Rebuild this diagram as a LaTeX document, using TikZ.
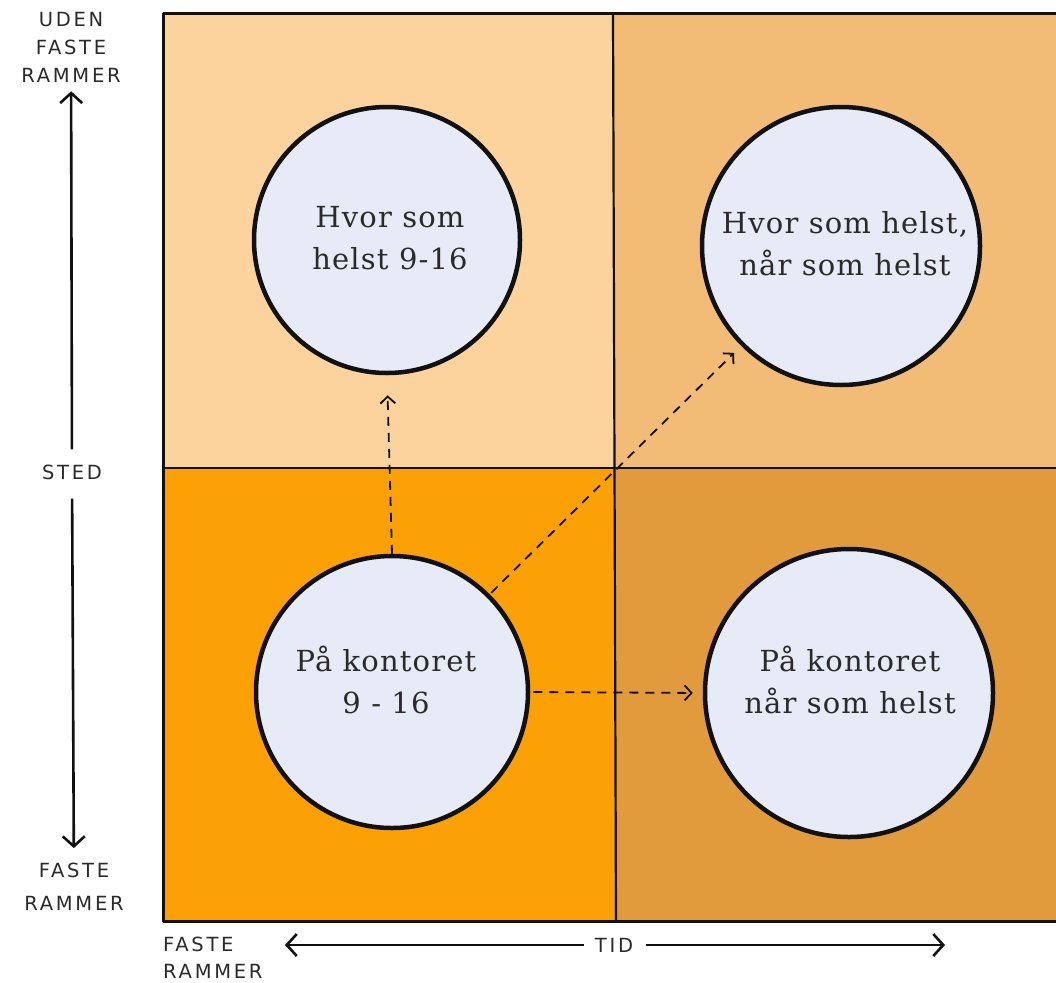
\documentclass[tikz,border=0pt]{standalone}
\usepackage{fontspec}
\setmainfont{DejaVu Serif}[LetterSpace=4]
\newfontfamily\labelfont[LetterSpace=14]{DejaVu Sans}
\usetikzlibrary{arrows.meta}
\definecolor{cTL}{HTML}{FCD39D}
\definecolor{cTR}{HTML}{F2BC76}
\definecolor{cBL}{HTML}{FBA106}
\definecolor{cBR}{HTML}{E19A3C}
\definecolor{cBub}{HTML}{E7EBF8}
\definecolor{ink}{HTML}{111111}
\definecolor{pen}{HTML}{2A2A2A}
\tikzset{
  gridline/.style={draw=ink, line width=3pt, line join=round},
  midline/.style={draw=ink, line width=2.2pt},
  bubble/.style={circle, draw=ink, line width=4.5pt, fill=cBub, inner sep=0pt},
  bubtext/.style={align=center, text=pen, font=\fontsize{29}{42}\selectfont},
  axlabel/.style={text=pen, font=\labelfont\fontsize{19.5}{28}\selectfont, align=center, inner sep=1pt},
  axis/.style={draw=ink, line width=2.6pt, -{Straight Barb[length=10pt,width=22pt,line width=2.6pt]}},
  move/.style={draw=ink, line width=1.8pt, dash pattern=on 9pt off 7pt, -{Straight Barb[length=7pt,width=15pt,line width=1.8pt]}}
}
\begin{document}
\begin{tikzpicture}[x=1pt,y=-1pt]
\useasboundingbox (0,0) rectangle (1056,982);
% quadrants
\fill[cTL] (163,14) rectangle (614,468);
\fill[cTR] (614,14) rectangle (1056,468);
\fill[cBL] (163,468) rectangle (614,921);
\fill[cBR] (614,468) rectangle (1056,921);
\draw[gridline] (1056,14) -- (163,14) -- (163,921) -- (1056,921);
\draw[midline] (613,14) -- (616,921);
\draw[midline] (163,468) -- (1056,468);
% bubbles
\node[bubble, minimum size=266pt] (tl) at (387,240) {};
\node[bubble, minimum size=278pt] (tr) at (841,246) {};
\node[bubble, minimum size=272pt] (bl) at (392,692) {};
\node[bubble, minimum size=288pt] (br) at (849,693) {};
\node[bubtext] (tlt) at (390,238) {Hvor som\\helst 9-16};
\node[bubtext] (trt) at (845,244) {Hvor som helst,\\når som helst};
\node[bubtext] (blt) at (386,680) {På kontoret\\9 - 16};
\node[bubtext] (brt) at (850,680) {På kontoret\\når som helst};
% dashed moves
\draw[move, shorten >=20pt] (bl.north) -- (tl.south);
\draw[move, shorten >=10pt, shorten <=2pt] (bl.45) -- (tr.225);
\draw[move, shorten >=10pt, shorten <=3pt] (bl.east) -- (br.west);
% vertical axis
\node[axlabel] (ut) at (71,47) {UDEN\\FASTE\\RAMMER};
\node[axlabel] (sted) at (72,472) {STED};
\node[axlabel, font=\labelfont\fontsize{19.5}{33}\selectfont] (fb) at (74,887) {FASTE\\RAMMER};
\draw[axis, shorten <=14pt, shorten >=8pt] (sted) -- (ut);
\draw[axis, shorten <=18pt, shorten >=14pt] (sted) -- (fb);
% horizontal axis
\node[axlabel, align=left, anchor=west, font=\labelfont\fontsize{19.5}{27}\selectfont] (ft) at (162,958) {FASTE\\RAMMER};
\node[axlabel] (tid) at (614,945) {TID};
\coordinate (tidL) at (285,945);
\coordinate (tidR) at (945,945);
\draw[axis] (tid.west) ++(-10,0) -- (tidL);
\draw[axis] (tid.east) ++(12,0) -- (tidR);
\end{tikzpicture}
\end{document}
